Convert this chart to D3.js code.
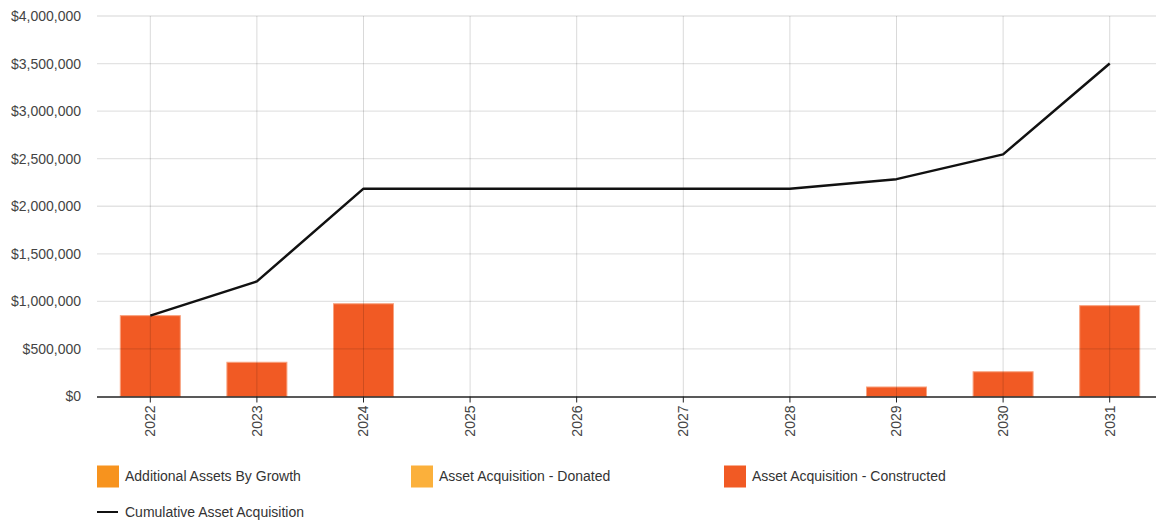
<!DOCTYPE html>
<html>
<head>
<meta charset="utf-8">
<script src="https://cdn.jsdelivr.net/npm/d3@7"></script>
<style>
  html, body { margin: 0; padding: 0; background: #fff; }
  svg { display: block; font-family: "Liberation Sans", Arial, sans-serif; }
</style>
</head>
<body>
<svg id="chart" width="1156" height="522"></svg>
<script>
// Financial years shown along the x axis
const years = ["2022", "2023", "2024", "2025", "2026", "2027", "2028", "2029", "2030", "2031"];

// Yearly acquisition amounts per category ($)
const growthValues      = [0, 0, 0, 0, 0, 0, 0, 0, 0, 0];
const donatedValues     = [0, 0, 0, 0, 0, 0, 0, 0, 0, 0];
const constructedValues = [850000, 360000, 975000, 0, 0, 0, 0, 100000, 260000, 955000];

// Running total of all acquisitions ($)
const cumulativeValues  = [850000, 1210000, 2185000, 2185000, 2185000, 2185000, 2185000, 2285000, 2545000, 3500000];

// Value axis ticks
const yTicks = [0, 500000, 1000000, 1500000, 2000000, 2500000, 3000000, 3500000, 4000000];

const seriesNames = ["Additional Assets By Growth", "Asset Acquisition - Donated", "Asset Acquisition - Constructed"];
const seriesColors = ["#f7931e", "#fbb03b", "#f15a24"];
const lineName = "Cumulative Asset Acquisition";

const svg = d3.select("#chart");
const plotLeft = 97, plotRight = 1163, plotTop = 16, plotBottom = 396.5;
const fontSize = 14;

const x = d3.scaleBand().domain(years).range([plotLeft, plotRight]).paddingInner(0).paddingOuter(0);
const y = d3.scaleLinear().domain([0, 4000000]).range([plotBottom, plotTop]);
const barW = 60;

// Stacked bars (growth + donated + constructed)
const stackData = years.map((yr, i) => ({
  year: yr,
  growth: growthValues[i],
  donated: donatedValues[i],
  constructed: constructedValues[i]
}));
const stack = d3.stack().keys(["growth", "donated", "constructed"]);
const layers = stack(stackData);

svg.append("g").selectAll("g")
  .data(layers)
  .join("g")
  .attr("fill", (d, i) => seriesColors[i])
  .selectAll("rect")
  .data(d => d.filter(p => p[1] - p[0] > 0))
  .join("rect")
  .attr("x", d => x(d.data.year) + x.bandwidth() / 2 - barW / 2)
  .attr("width", barW)
  .attr("y", d => y(d[1]))
  .attr("height", d => y(d[0]) - y(d[1]))
  .attr("stroke", "#f8a27f")
  .attr("stroke-width", 1);

// Grid, drawn over the bars with a translucent stroke
const grid = svg.append("g");
grid.selectAll("line.h")
  .data(yTicks.slice(1))
  .join("line")
  .attr("x1", plotLeft).attr("x2", 1156)
  .attr("y1", d => y(d)).attr("y2", d => y(d))
  .attr("stroke", "rgba(0,0,0,0.11)")
  .attr("stroke-width", 1.3);
grid.selectAll("line.v")
  .data(years)
  .join("line")
  .attr("x1", d => x(d) + x.bandwidth() / 2).attr("x2", d => x(d) + x.bandwidth() / 2)
  .attr("y1", plotTop).attr("y2", plotBottom)
  .attr("stroke", "rgba(0,0,0,0.15)")
  .attr("stroke-width", 1);

// Y axis labels
const fmt = d => "$" + d3.format(",")(d);
const yAxis = svg.append("g")
  .attr("transform", `translate(${plotLeft},0)`)
  .call(d3.axisLeft(y).tickValues(yTicks).tickFormat(fmt).tickSize(0).tickPadding(16));
yAxis.select(".domain").remove();
yAxis.selectAll("text")
  .attr("font-size", fontSize)
  .attr("font-family", "Liberation Sans, Arial, sans-serif")
  .attr("fill", "#444");

// X axis
const xAxis = svg.append("g")
  .attr("transform", `translate(0,${plotBottom})`)
  .call(d3.axisBottom(x).tickSize(6).tickPadding(8));
xAxis.select(".domain")
  .attr("d", `M${plotLeft},0.5H1156`)
  .attr("stroke", "#222")
  .attr("stroke-width", 1.5);
xAxis.selectAll(".tick line").attr("stroke", "#222");
xAxis.selectAll("text")
  .attr("font-size", fontSize)
  .attr("font-family", "Liberation Sans, Arial, sans-serif")
  .attr("fill", "#444")
  .attr("transform", "rotate(-90)")
  .attr("text-anchor", "end")
  .attr("x", -9)
  .attr("y", 0)
  .attr("dy", "0.35em");

// Cumulative line
const line = d3.line()
  .x((d, i) => x(years[i]) + x.bandwidth() / 2)
  .y(d => y(d));
svg.append("path")
  .datum(cumulativeValues)
  .attr("d", line)
  .attr("fill", "none")
  .attr("stroke", "#111")
  .attr("stroke-width", 2.5)
  .attr("stroke-linejoin", "round");

// Legend
const legend = svg.append("g").attr("font-size", fontSize).attr("fill", "#333");
const legendX = [97, 411, 724];
seriesNames.forEach((name, i) => {
  const g = legend.append("g").attr("transform", `translate(${legendX[i]},465.5)`);
  g.append("rect").attr("width", 22).attr("height", 22).attr("fill", seriesColors[i]);
  g.append("text").attr("x", 28).attr("y", 11).attr("dy", "0.35em").text(name);
});
const lg = legend.append("g").attr("transform", "translate(97,512)");
lg.append("line").attr("x1", 0).attr("x2", 21).attr("y1", 0).attr("y2", 0)
  .attr("stroke", "#111").attr("stroke-width", 2);
lg.append("text").attr("x", 28).attr("y", 0).attr("dy", "0.35em").text(lineName);
</script>
</body>
</html>
